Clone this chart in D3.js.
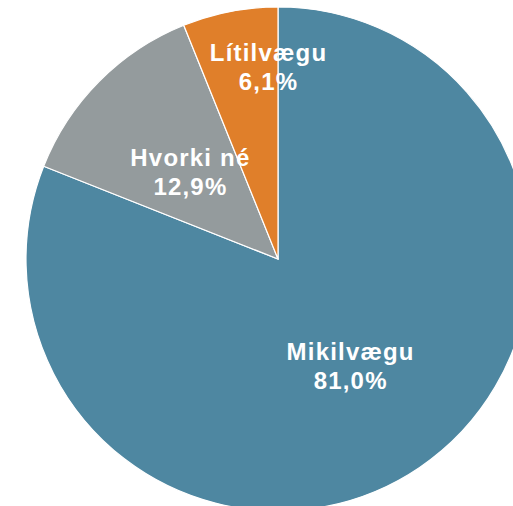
<!DOCTYPE html>
<html>
<head>
<meta charset="utf-8">
<script src="https://cdn.jsdelivr.net/npm/d3@7"></script>
<style>
  html, body { margin: 0; padding: 0; background: #fff; overflow: hidden; }
  svg { display: block; }
</style>
</head>
<body>
<svg id="chart" width="513" height="506"></svg>
<script>
// Answer categories and their shares (%)
const categories = ["Mikilvægu", "Hvorki né", "Lítilvægu"];
const shares = [81.0, 12.9, 6.1];
const colors = ["#4e87a1", "#949b9d", "#e07f2a"];

const svg = d3.select("#chart");
const cx = 278, cy = 259, radius = 252;

const data = categories.map((c, i) => ({ name: c, value: shares[i], color: colors[i] }));

const pie = d3.pie().value(d => d.value).sort(null);
const arcs = pie(data);

const arc = d3.arc().innerRadius(0).outerRadius(radius);

const g = svg.append("g").attr("transform", `translate(${cx},${cy})`);

g.selectAll("path.slice")
  .data(arcs)
  .enter().append("path")
  .attr("class", "slice")
  .attr("d", arc)
  .attr("fill", d => d.data.color)
  .attr("stroke", "#ffffff")
  .attr("stroke-width", 1.2);

// label distance from centre (fraction of radius) and sideways nudge, per slice
const labelFrac = [0.513, 0.49, 0.78];
const labelNudge = [0, 0, 28];
const fmt = v => v.toFixed(1).replace(".", ",") + "%";

arcs.forEach((a, i) => {
  const mid = (a.startAngle + a.endAngle) / 2;
  const r = radius * labelFrac[i];
  const x = r * Math.sin(mid) + labelNudge[i];
  const y = -r * Math.cos(mid);
  const t = g.append("text")
    .attr("text-anchor", "middle")
    .attr("fill", "#ffffff")
    .style("font-family", "'Liberation Sans', Arial, sans-serif")
    .style("font-weight", "bold")
    .style("font-size", "24px")
    .style("letter-spacing", "1.2px");
  t.append("tspan").attr("x", x).attr("y", y - 5.5).text(a.data.name);
  t.append("tspan").attr("x", x).attr("y", y + 23.5).text(fmt(a.data.value));
});
</script>
</body>
</html>
